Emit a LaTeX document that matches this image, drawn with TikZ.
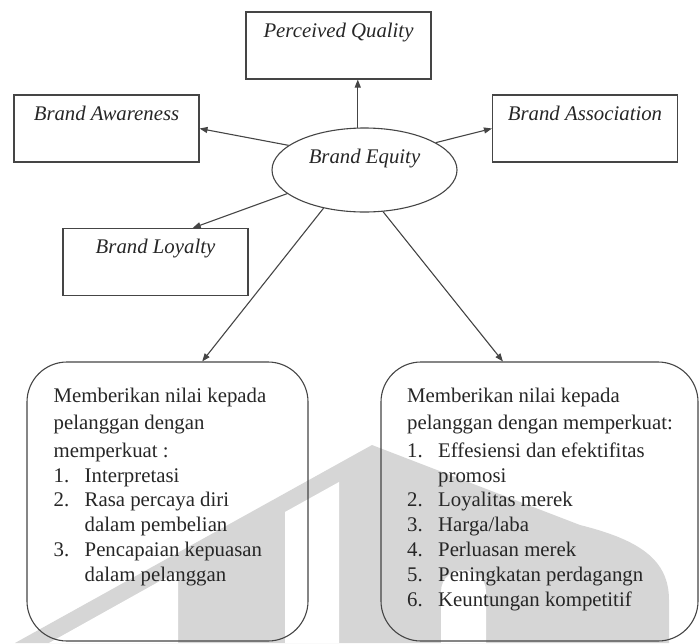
\documentclass[tikz,border=0pt]{standalone}
\usepackage{fontspec}
\setmainfont{Liberation Serif}
\usetikzlibrary{shapes.geometric,arrows.meta,calc}
\definecolor{wm}{gray}{0.84}
\definecolor{ln}{gray}{0.27}
\definecolor{tx}{gray}{0.15}
\newcommand{\numbx}[1]{\makebox[31pt][l]{#1}}
\begin{document}
\begin{tikzpicture}[x=1pt,y=-1pt,
  lab/.style={draw=ln, line width=1.1pt, rectangle, minimum width=185, minimum height=67,
    inner sep=0pt, text height=25pt, text depth=42pt,
    font=\fontsize{20.8}{24.8}\selectfont\itshape, text=tx},
  eqs/.style={ellipse, draw=ln, line width=1.1pt, minimum width=185, minimum height=84,
    inner sep=0pt, text height=15pt, text depth=29pt,
    font=\fontsize{20.8}{24.8}\selectfont\itshape, text=tx},
  rbox/.style={draw=ln, line width=1.1pt, rectangle, rounded corners=40pt,
    minimum height=279, inner sep=0pt},
  body/.style={anchor=north west, inner sep=0pt, align=left,
    font=\fontsize{20.8}{24.8}\selectfont, text=tx},
  arr/.style={draw=ln, line width=1.1pt, -{Triangle[length=8pt,width=6pt]}}
]
\useasboundingbox (0,0) rectangle (699,643);
% watermark
\fill[wm] (15,643) -- (372,445) -- (580,525) .. controls (640,540) and (669,560) .. (669,600) -- (669,643) -- cycle;
\fill[white] (49,643) -- (178,571) -- (178,643) -- cycle;
\fill[white] (285,643) -- (285,512) -- (339,482) -- (339,643) -- cycle;
\fill[white] (441,643) -- (441,592) .. controls (441,563) and (486,563) .. (486,592) -- (486,643) -- cycle;

% nodes
\node[lab] (pq) at (338.5,45.5) {Perceived Quality};
\node[lab] (ba) at (106.5,128.5) {Brand Awareness};
\node[lab] (bas) at (585,128.5) {Brand Association};
\node[lab] (bl) at (155.5,262) {Brand Loyalty};
\node[eqs] (eq) at (364.5,170) {Brand Equity};
\node[rbox, minimum width=281] (lb) at (167.5,501.5) {};
\node[rbox, minimum width=317] (rb) at (539.5,501.5) {};

\node[body] (lt) at (53.5,387) {\rule{0pt}{15pt}Memberikan nilai kepada\\[2.7pt]
  pelanggan dengan\\[2.7pt]
  memperkuat :\\
  \numbx{1.}Interpretasi\\
  \numbx{2.}Rasa percaya diri\\
  \hspace*{31pt}dalam pembelian\\
  \numbx{3.}Pencapaian kepuasan\\
  \hspace*{31pt}dalam pelanggan};
\node[body] (rt) at (407,387) {\rule{0pt}{15pt}Memberikan nilai kepada\\[2.7pt]
  pelanggan dengan memperkuat:\\[2.7pt]
  \numbx{1.}Effesiensi dan efektifitas\\
  \hspace*{31pt}promosi\\
  \numbx{2.}Loyalitas merek\\
  \numbx{3.}Harga/laba\\
  \numbx{4.}Perluasan merek\\
  \numbx{5.}Peningkatan perdagangn\\
  \numbx{6.}Keuntungan kompetitif};

% connectors
\draw[arr] (eq.99.5) -- (eq.99.5 |- pq.south);
\draw[arr] (eq.162) -- (ba.east);
\draw[arr] (eq.21) -- (bas.west);
\draw[arr] (eq.197) -- ($(bl.north west)!0.7!(bl.north east)$);
\draw[arr] (eq.223) -- ($(lb.north west)!0.623!(lb.north east)$);
\draw[arr] (eq.294) -- ($(rb.north west)!0.385!(rb.north east)$);
\end{tikzpicture}
\end{document}
